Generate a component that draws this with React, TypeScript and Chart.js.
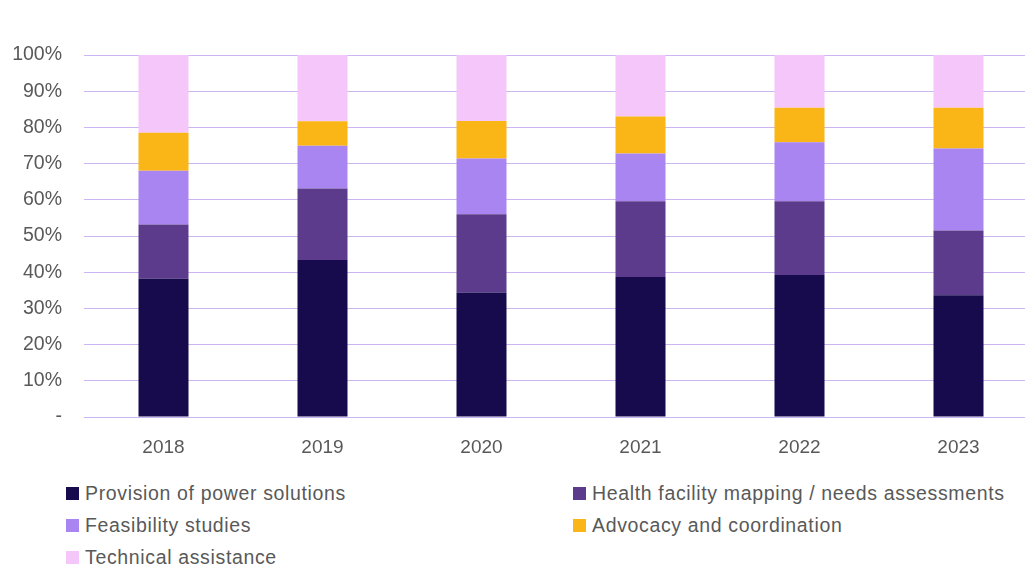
import React, { useEffect, useRef } from 'react';
import { Chart, registerables } from 'chart.js';

Chart.register(...registerables);

const categories = ['2018', '2019', '2020', '2021', '2022', '2023'];
const seriesNames = [
  'Provision of power solutions',
  'Health facility mapping / needs assessments',
  'Feasibility studies',
  'Advocacy and coordination',
  'Technical assistance',
];
const provision = [38.2, 43.4, 34.4, 38.7, 39.2, 33.6];
const healthMapping = [15.0, 19.7, 21.6, 20.9, 20.4, 17.9];
const feasibility = [14.8, 11.8, 15.4, 13.2, 16.3, 22.7];
const advocacy = [10.5, 6.8, 10.4, 10.2, 9.5, 11.2];
const technical = [21.5, 18.3, 18.2, 17.0, 14.6, 14.6];
const yTickLabels = ['-', '10%', '20%', '30%', '40%', '50%', '60%', '70%', '80%', '90%', '100%'];

const seriesValues = [provision, healthMapping, feasibility, advocacy, technical];
const seriesColors = ['#170B4E', '#5C3B8D', '#A985F2', '#FAB616', '#F5C6F9'];

const FONT = '"Liberation Sans", Arial, sans-serif';
const TEXT = '#595959';

export default function App() {
  const ref = useRef<HTMLCanvasElement | null>(null);

  useEffect(() => {
    if (!ref.current) return;
    const chart = new Chart(ref.current, {
      type: 'bar',
      data: {
        labels: categories,
        datasets: seriesNames.map((name, i) => ({
          label: name,
          data: seriesValues[i],
          backgroundColor: seriesColors[i],
          borderWidth: 0,
          barPercentage: 0.3145,
          categoryPercentage: 1,
        })),
      },
      options: {
        responsive: false,
        animation: false,
        devicePixelRatio: 1,
        layout: { padding: { left: 0, right: 2, top: 55, bottom: 0 } },
        plugins: { legend: { display: false }, tooltip: { enabled: false } },
        scales: {
          x: {
            stacked: true,
            grid: { display: false },
            border: { display: false },
            ticks: { color: TEXT, font: { family: FONT, size: 19 }, padding: 11 },
            afterFit: (s: any) => { s.height = 43; },
          },
          y: {
            stacked: true,
            min: 0,
            max: 100,
            grid: { color: '#CBB5F3', lineWidth: 1, drawTicks: false },
            border: { display: false },
            ticks: {
              stepSize: 10,
              color: TEXT,
              font: { family: FONT, size: 19.5 },
              padding: 22,
              callback: (_v: any, i: number) => yTickLabels[i],
            },
            afterFit: (s: any) => { s.width = 84; },
          },
        },
      },
    });
    return () => chart.destroy();
  }, []);

  const legendPos = [
    { left: 66, top: 493 },
    { left: 573, top: 493 },
    { left: 66, top: 525 },
    { left: 573, top: 525 },
    { left: 66, top: 557 },
  ];

  return (
    <div style={{ position: 'fixed', left: 0, top: 0, width: 1025, height: 568, overflow: 'hidden', background: '#fff' }}>
      <canvas ref={ref} width={1040} height={460} style={{ position: 'absolute', left: 0, top: 0, width: 1040, height: 460 }} />
      {seriesNames.map((name, i) => (
        <div
          key={name}
          style={{
            position: 'absolute',
            left: legendPos[i].left,
            top: legendPos[i].top - 12,
            height: 24,
            display: 'flex',
            alignItems: 'center',
            fontFamily: FONT,
            fontSize: 19.5,
            letterSpacing: '0.65px',
            color: TEXT,
            whiteSpace: 'nowrap',
          }}
        >
          <span style={{ display: 'inline-block', width: 13, height: 13, background: seriesColors[i], marginRight: 6 }} />
          <span>{name}</span>
        </div>
      ))}
    </div>
  );
}
